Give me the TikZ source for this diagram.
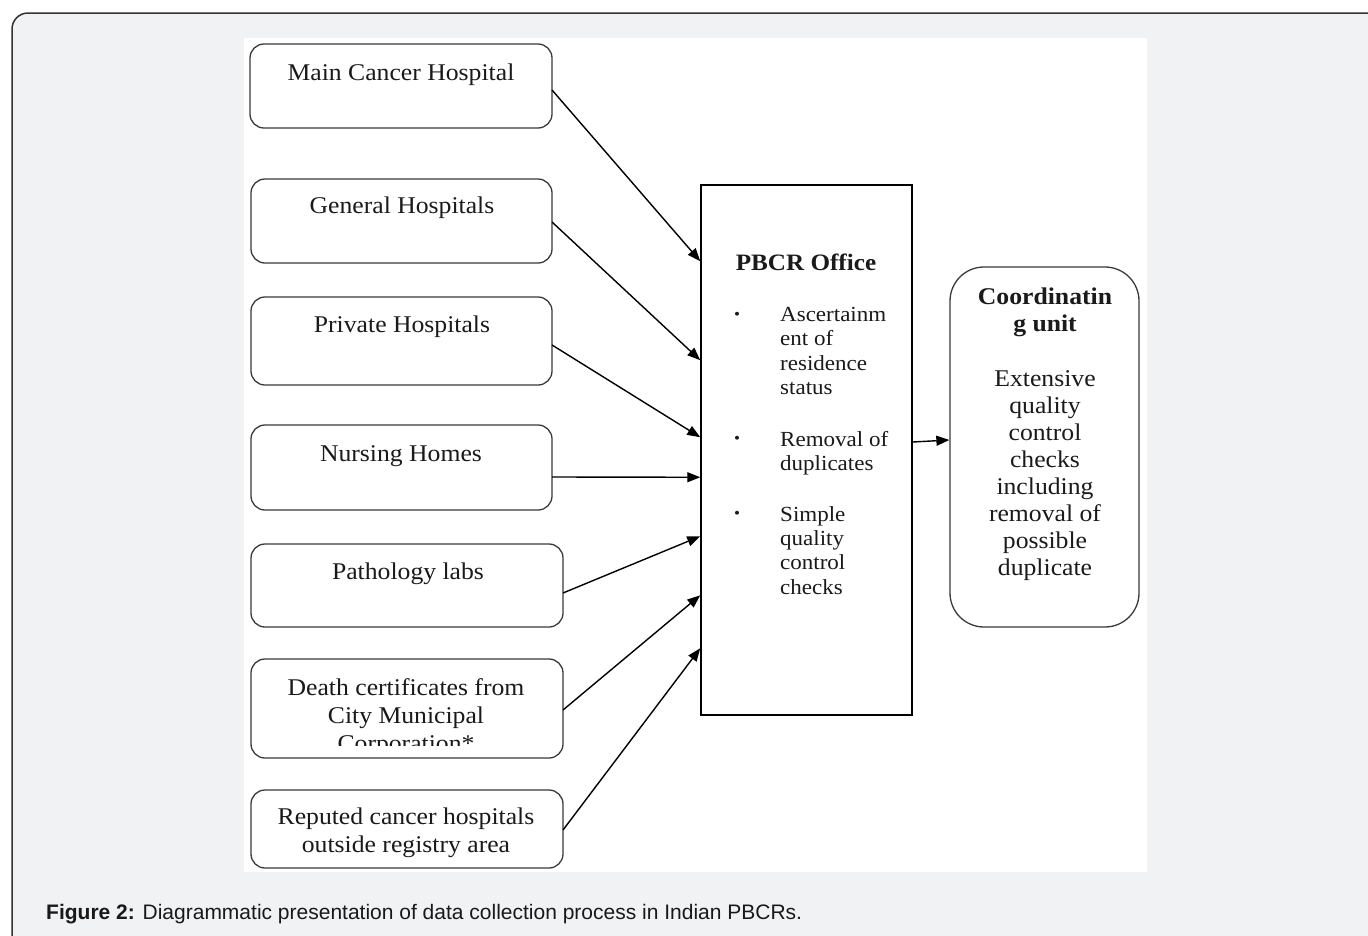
\documentclass[tikz,border=0pt]{standalone}
\usepackage{fontspec}
\setmainfont{Liberation Serif}[FakeStretch=1.07]
\newfontfamily\capfont{Liberation Sans}
\usetikzlibrary{arrows.meta,positioning}
\definecolor{pagegray}{HTML}{F1F2F4}
\definecolor{edgegray}{HTML}{3A3A3A}
\definecolor{inkgray}{HTML}{1A1A1A}

\tikzset{
  srcbox/.style={draw=edgegray, line width=1.3pt, rounded corners=14pt, inner sep=0pt, outer sep=0pt},
  srctext/.style={anchor=north, align=center, inner sep=0pt, text=inkgray, font=\fontsize{24}{28}\selectfont},
  listtext/.style={anchor=north west, align=left, inner sep=0pt, text=inkgray, font=\fontsize{21.5}{24.4}\selectfont},
  unittext/.style={anchor=north, align=center, inner sep=0pt, text=inkgray, font=\fontsize{24}{27.1}\selectfont},
  feed/.style={-{Triangle[length=13pt,width=10pt]}, line width=1.4pt},
}

\begin{document}
\begin{tikzpicture}[x=1pt, y=-1pt]
  \useasboundingbox (0,0) rectangle (1368,935);
  \clip (0,0) rectangle (1368,935);
  % page frame and white figure area
  \draw[fill=pagegray, draw=black!80, line width=1.5pt, rounded corners=16pt] (12,13) rectangle (1395,960);
  \fill[white] (244,38) rectangle (1147,872);

  % data sources
  \node[srcbox, minimum width=302pt, minimum height=84pt] (main) at (401,86) {};
  \node[srcbox, minimum width=301pt, minimum height=84pt] (gen) at (401.5,221) {};
  \node[srcbox, minimum width=301pt, minimum height=88pt] (priv) at (401.5,341) {};
  \node[srcbox, minimum width=301pt, minimum height=85pt] (nurs) at (401.5,467.5) {};
  \node[srcbox, minimum width=312pt, minimum height=83pt] (path) at (407,585.5) {};
  \node[srcbox, minimum width=312pt, minimum height=99pt] (death) at (407,708.5) {};
  \node[srcbox, minimum width=312pt, minimum height=78pt] (rep) at (407,829) {};

  \node[srctext] at (401,64) {Main Cancer Hospital};
  \node[srctext] at (402,197) {General Hospitals};
  \node[srctext] at (402,316) {Private Hospitals};
  \node[srctext] at (401,445) {Nursing Homes};
  \node[srctext] at (408,563) {Pathology labs};
  \begin{scope}
    \clip (251,659) rectangle (563,745);
    \node[srctext] at (406,678) {Death certificates from\\City Municipal\\Corporation*};
  \end{scope}
  \node[srctext] at (406,808) {Reputed cancer hospitals\\outside registry area};

  % registry office
  \node[draw, line width=1.5pt, minimum width=211pt, minimum height=530pt, inner sep=0pt] (pbcr) at (806.5,450) {};
  \node[anchor=north, inner sep=0pt, text=inkgray, font=\fontsize{23.5}{28}\selectfont\bfseries] at (806,254) {PBCR Office};
  \foreach \by in {316,440,515}
    \node[text=inkgray, font=\fontsize{16}{16}\selectfont] at (737,\by) {\textbullet};
  \node[listtext] at (780,307) {Ascertainm\\ent of\\residence\\status};
  \node[listtext] at (780,431) {Removal of\\duplicates};
  \node[listtext] at (780,506) {Simple\\quality\\control\\checks};

  % coordinating unit
  \node[draw=edgegray, line width=1.3pt, rounded corners=34pt, minimum width=189pt, minimum height=360pt, inner sep=0pt] (coord) at (1044.5,447) {};
  \node[unittext, font=\fontsize{24}{27.1}\selectfont\bfseries] at (1045,288) {Coordinatin\\g unit};
  \node[unittext] at (1045,370) {Extensive\\quality\\control\\checks\\including\\removal of\\possible\\duplicate};

  % connectors
  \foreach \src/\sy/\dy in {main/-4/-77, gen/-1/-176, priv/-4/-253, nurs/-9.5/-293, path/-7.5/-352, death/-1.5/-411, rep/-1/-464}
    \draw[feed] ([yshift=\sy pt]\src.east) -- ([yshift=\dy pt]pbcr.north west);
  \draw[feed] ([yshift=8pt]pbcr.east) -- ([yshift=7pt]coord.west);

  % caption
  \node[anchor=base west, inner sep=0pt, font=\capfont\fontsize{21}{24}\selectfont, text=black!90] (cap) at (46,919)
    {\textbf{Figure 2:} Diagrammatic presentation of data collection process in Indian PBCRs.};
\end{tikzpicture}
\end{document}
